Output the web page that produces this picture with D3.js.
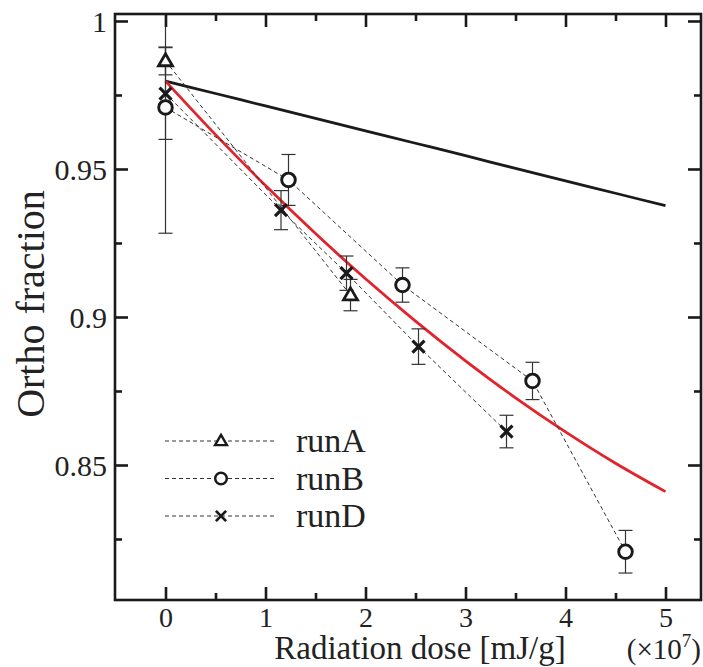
<!DOCTYPE html>
<html>
<head>
<meta charset="utf-8">
<script src="https://cdn.jsdelivr.net/npm/d3@7"></script>
<style>
  html, body { margin: 0; padding: 0; background: #fff; }
  svg { display: block; }
  text { font-family: "Liberation Serif", "Times New Roman", Times, "DejaVu Serif", serif; fill: #222; }
</style>
</head>
<body>
<svg id="chart" width="703" height="667"></svg>
<script>
// ---- data ----
const runA_dose = [0, 1.85];
const runA_frac = [0.9865, 0.9074];
const runA_err  = [0.0047, 0.0053];

const runB_dose = [0, 1.23, 2.37, 3.67, 4.60];
const runB_frac = [0.9708, 0.9463, 0.9108, 0.8784, 0.8207];
const runB_err  = [0.0425, 0.0086, 0.0058, 0.0063, 0.0072];

const runD_dose = [0, 1.155, 1.81, 2.53, 3.41];
const runD_frac = [0.9755, 0.9361, 0.9148, 0.8900, 0.8613];
const runD_err  = [0.0155, 0.0066, 0.0058, 0.0060, 0.0055];

const modelDose  = [0, 0.5, 1, 1.5, 2, 2.5, 3, 3.5, 4, 4.5, 5];
const blackModel = [0.9797, 0.9755, 0.9713, 0.9671, 0.9629, 0.9587, 0.9545, 0.9502, 0.9460, 0.9418, 0.9376];
const redModel   = [0.9797, 0.9616, 0.9444, 0.9282, 0.9129, 0.8986, 0.8852, 0.8727, 0.8612, 0.8506, 0.8410];

const xMajorTicks = [0, 1, 2, 3, 4, 5];
const xMinorTicks = [0.5, 1.5, 2.5, 3.5, 4.5];
const yMajorTicks = [0.85, 0.9, 0.95, 1];
const yMinorTicks = [0.825, 0.875, 0.925, 0.975];
const yTickLabels = ["0.85", "0.9", "0.95", "1"];
const seriesNames = ["runA", "runB", "runD"];

// ---- layout ----
const L = 115, R = 701, T = 14, B = 600;
const svg = d3.select("#chart");
const x = d3.scaleLinear().domain([-0.505, 5.355]).range([L, R]);
const y = d3.scaleLinear().domain([0.80439, 1.00236]).range([B, T]);

const defs = svg.append("defs");
defs.append("clipPath").attr("id", "clip")
  .append("rect").attr("x", L).attr("y", T).attr("width", R - L).attr("height", B - T);

const plot = svg.append("g").attr("clip-path", "url(#clip)");

const line = d3.line().x(d => x(d[0])).y(d => y(d[1])).curve(d3.curveMonotoneX);

// model curves
plot.append("path").datum(modelDose.map((d, i) => [d, blackModel[i]]))
  .attr("d", line).attr("fill", "none").attr("stroke", "#1a1a1a").attr("stroke-width", 2.8);
plot.append("path").datum(modelDose.map((d, i) => [d, redModel[i]]))
  .attr("d", line).attr("fill", "none").attr("stroke", "#e3232b").attr("stroke-width", 2.8);

const series = [
  {name: "runA", dose: runA_dose, frac: runA_frac, err: runA_err, sym: "tri"},
  {name: "runB", dose: runB_dose, frac: runB_frac, err: runB_err, sym: "circ"},
  {name: "runD", dose: runD_dose, frac: runD_frac, err: runD_err, sym: "cross"}
];

const straight = d3.line().x(d => x(d[0])).y(d => y(d[1]));

// dashed connecting lines
series.forEach(s => {
  plot.append("path").datum(s.dose.map((d, i) => [d, s.frac[i]]))
    .attr("d", straight).attr("fill", "none").attr("stroke", "#333")
    .attr("stroke-width", 1).attr("stroke-dasharray", "4,3");
});

// error bars
series.forEach(s => {
  s.dose.forEach((d, i) => {
    const cx = x(d), y1 = y(s.frac[i] + s.err[i]), y2 = y(s.frac[i] - s.err[i]);
    const g = plot.append("g").attr("stroke", "#333").attr("stroke-width", 1.2);
    g.append("line").attr("x1", cx).attr("x2", cx).attr("y1", y1).attr("y2", y2);
    g.append("line").attr("x1", cx - 7).attr("x2", cx + 7).attr("y1", y1).attr("y2", y1);
    g.append("line").attr("x1", cx - 7).attr("x2", cx + 7).attr("y1", y2).attr("y2", y2);
  });
});

function drawSym(g, sym, cx, cy, k) {
  if (sym === "tri") {
    const h = 12 * k, w = 14 * k;
    g.append("path")
      .attr("d", `M${cx},${cy - h * 0.6}L${cx + w / 2},${cy + h * 0.4}L${cx - w / 2},${cy + h * 0.4}Z`)
      .attr("fill", "#fff").attr("stroke", "#1a1a1a").attr("stroke-width", 2.8 * k).attr("stroke-linejoin", "miter");
  } else if (sym === "circ") {
    g.append("circle").attr("cx", cx).attr("cy", cy).attr("r", 6.8 * k)
      .attr("fill", "#fff").attr("stroke", "#1a1a1a").attr("stroke-width", 2.9 * k);
  } else {
    const a = 6 * k;
    g.append("path")
      .attr("d", `M${cx - a},${cy - a}L${cx + a},${cy + a}M${cx - a},${cy + a}L${cx + a},${cy - a}`)
      .attr("stroke", "#1a1a1a").attr("stroke-width", 3.2 * k).attr("fill", "none");
  }
}

// markers
series.forEach(s => {
  s.dose.forEach((d, i) => drawSym(plot, s.sym, x(d), y(s.frac[i]), 1));
});

// ---- axes frame ----
const axG = svg.append("g").attr("stroke", "#1a1a1a").attr("stroke-width", 2.6).attr("fill", "none");
axG.append("rect").attr("x", L).attr("y", T).attr("width", R - L).attr("height", B - T);

// x ticks (bottom and top, inward)
const xAxisB = d3.axisBottom(x).tickValues(xMajorTicks).tickSize(-13).tickFormat(d3.format("d")).tickPadding(7);
const gxB = svg.append("g").attr("transform", `translate(0,${B})`).call(xAxisB);
const xAxisBm = d3.axisBottom(x).tickValues(xMinorTicks).tickSize(-7).tickFormat("");
const gxBm = svg.append("g").attr("transform", `translate(0,${B})`).call(xAxisBm);
const xAxisT = d3.axisTop(x).tickValues(xMajorTicks).tickSize(-13).tickFormat("");
const gxT = svg.append("g").attr("transform", `translate(0,${T})`).call(xAxisT);
const xAxisTm = d3.axisTop(x).tickValues(xMinorTicks).tickSize(-7).tickFormat("");
const gxTm = svg.append("g").attr("transform", `translate(0,${T})`).call(xAxisTm);

// y ticks (left and right, inward)
const yAxisL = d3.axisLeft(y).tickValues(yMajorTicks).tickSize(-13)
  .tickFormat((d, i) => yTickLabels[i]).tickPadding(8);
const gyL = svg.append("g").attr("transform", `translate(${L},0)`).call(yAxisL);
const yAxisLm = d3.axisLeft(y).tickValues(yMinorTicks).tickSize(-7).tickFormat("");
const gyLm = svg.append("g").attr("transform", `translate(${L},0)`).call(yAxisLm);
const yAxisR = d3.axisRight(y).tickValues(yMajorTicks).tickSize(-13).tickFormat("");
const gyR = svg.append("g").attr("transform", `translate(${R},0)`).call(yAxisR);
const yAxisRm = d3.axisRight(y).tickValues(yMinorTicks).tickSize(-7).tickFormat("");
const gyRm = svg.append("g").attr("transform", `translate(${R},0)`).call(yAxisRm);

[gxB, gxBm, gxT, gxTm, gyL, gyLm, gyR, gyRm].forEach(g => {
  g.select(".domain").remove();
  g.selectAll(".tick line").attr("stroke", "#1a1a1a").attr("stroke-width", 2.6);
  g.selectAll("text").attr("font-size", 28).attr("fill", "#222");
});
gyL.selectAll("text").attr("font-size", 30).attr("dy", "0.34em");

// axis titles
svg.append("text").attr("x", 420).attr("y", 659).attr("text-anchor", "middle")
  .attr("font-size", 33).text("Radiation dose [mJ/g]");
const mult = svg.append("text").attr("x", 701).attr("y", 659).attr("text-anchor", "end").attr("font-size", 29);
mult.append("tspan").text("(×10");
mult.append("tspan").attr("dy", -12).attr("font-size", 19).text("7");
mult.append("tspan").attr("dy", 12).text(")");

svg.append("text").attr("transform", `translate(44,304) rotate(-90)`).attr("text-anchor", "middle")
  .attr("font-size", 40).text("Ortho fraction");

// ---- legend ----
const legY = [441, 478.5, 516];
const legSyms = ["tri", "circ", "cross"];
seriesNames.forEach((nm, i) => {
  const g = svg.append("g");
  g.append("line").attr("x1", 165).attr("x2", 277).attr("y1", legY[i]).attr("y2", legY[i])
    .attr("stroke", "#333").attr("stroke-width", 1).attr("stroke-dasharray", "4,3");
  drawSym(g, legSyms[i], 221, legY[i], 0.85);
  g.append("text").attr("x", 296).attr("y", legY[i] + 11).attr("font-size", 34).text(nm);
});
</script>
</body>
</html>
